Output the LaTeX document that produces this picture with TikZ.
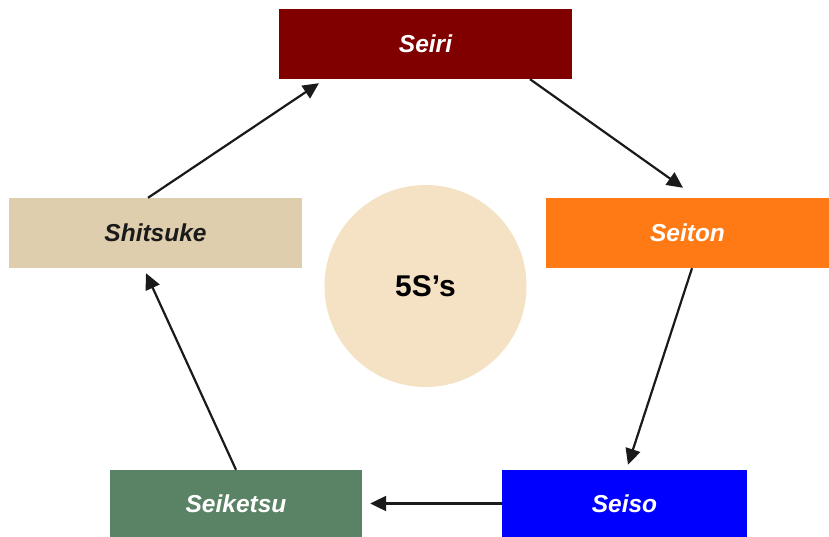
\documentclass[tikz,border=0pt]{standalone}
\usepackage{fontspec}
\setmainfont{Liberation Sans}
\usetikzlibrary{arrows.meta}
\definecolor{cSeiri}{HTML}{800000}
\definecolor{cSeiton}{HTML}{FF7A14}
\definecolor{cSeiso}{HTML}{0000FF}
\definecolor{cSeiketsu}{HTML}{5A8264}
\definecolor{cShitsuke}{HTML}{DFCEAD}
\definecolor{cCircle}{HTML}{F5E1C3}
\definecolor{cArrow}{HTML}{1A1A1A}
\tikzset{
  sbox/.style={rectangle, inner sep=0pt, draw=none, text=white,
    font=\fontsize{24.5}{28}\selectfont\bfseries\itshape},
  flow/.style={draw=cArrow, line width=2.2pt, -{Triangle[length=16pt,width=15pt]}},
}
\begin{document}
\begin{tikzpicture}[x=1pt,y=-1pt]
\useasboundingbox (0,0) rectangle (829,537);
\node[sbox, fill=cSeiri, minimum width=293pt, minimum height=70pt] (seiri) at (425.5,44) {Seiri};
\node[sbox, fill=cSeiton, minimum width=283pt, minimum height=70pt] (seiton) at (687.5,233) {Seiton};
\node[sbox, fill=cShitsuke, text=cArrow, minimum width=293pt, minimum height=70pt] (shitsuke) at (155.5,233) {Shitsuke};
\node[sbox, fill=cSeiso, minimum width=245pt, minimum height=67pt] (seiso) at (624.5,503.5) {Seiso};
\node[sbox, fill=cSeiketsu, minimum width=252pt, minimum height=67pt] (seiketsu) at (236,503.5) {Seiketsu};
\node[circle, fill=cCircle, minimum size=202pt, inner sep=0pt,
  font=\fontsize{30}{34}\selectfont\bfseries] (center) at (425.5,286) {5S’s};
\draw[flow] ([xshift=104.5pt]seiri.south) -- ([xshift=-4.5pt,yshift=10pt]seiton.north);
\draw[flow] ([xshift=4.5pt]seiton.south) -- ([xshift=3.5pt,yshift=5pt]seiso.north);
\draw[flow] (seiso.west) -- ([xshift=8pt]seiketsu.east);
\draw[flow] (seiketsu.north) -- ([xshift=-9.5pt,yshift=-5pt]shitsuke.south);
\draw[flow] ([xshift=-7.5pt]shitsuke.north) -- ([xshift=-106.5pt,yshift=-4pt]seiri.south);
\end{tikzpicture}
\end{document}
